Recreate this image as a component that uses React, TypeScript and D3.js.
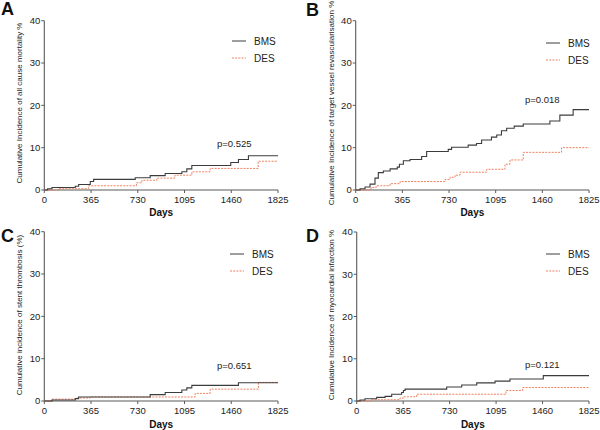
import React from "react";
import * as d3 from "d3";

const xTicks = [0, 365, 730, 1095, 1460, 1825];
const yTicks = [0, 10, 20, 30, 40];
const seriesNames = ["BMS", "DES"];

// [day, cumulative %]
const mortalityBMS: [number, number][] = [
  [0, 0], [26, 0.3], [60, 0.6], [242, 0.9], [268, 1.3], [359, 2.0], [385, 2.5],
  [710, 2.9], [827, 3.4], [944, 3.9], [1074, 4.3], [1113, 5.0], [1152, 5.8],
  [1456, 6.5], [1516, 7.2], [1594, 8.1], [1825, 8.1],
];
const mortalityDES: [number, number][] = [
  [0, 0], [112, 0.3], [346, 1.0], [720, 1.7], [762, 2.3], [879, 2.8],
  [1020, 3.5], [1152, 4.3], [1295, 5.1], [1670, 6.8], [1825, 6.8],
];
const tvrBMS: [number, number][] = [
  [0, 0], [34, 0.3], [73, 0.7], [112, 1.4], [151, 2.8], [177, 4.1], [216, 4.5],
  [269, 5.0], [325, 5.4], [342, 6.1], [373, 6.9], [425, 7.2], [516, 7.9],
  [555, 9.1], [724, 9.6], [750, 10.1], [880, 10.6], [945, 11.0], [985, 11.8],
  [1062, 12.5], [1103, 13.0], [1140, 14.0], [1181, 14.6], [1240, 15.1],
  [1311, 15.6], [1519, 16.3], [1597, 17.7], [1701, 19.0], [1825, 19.0],
];
const tvrDES: [number, number][] = [
  [0, 0], [120, 0.6], [160, 1.0], [269, 1.5], [347, 2.0], [699, 2.5],
  [738, 3.0], [777, 3.5], [816, 4.2], [1025, 4.9], [1168, 6.1], [1207, 7.1],
  [1311, 8.9], [1610, 10.0], [1825, 10.0],
];
const thrombosisBMS: [number, number][] = [
  [0, 0], [60, 0.25], [242, 0.55], [268, 0.95], [827, 1.5], [944, 2.0],
  [1074, 2.6], [1113, 3.1], [1152, 3.7], [1516, 4.3], [1825, 4.3],
];
const thrombosisDES: [number, number][] = [
  [0, 0], [60, 0.45], [242, 0.7], [359, 0.95], [1178, 1.8], [1295, 2.8],
  [1672, 4.4], [1825, 4.4],
];
const miBMS: [number, number][] = [
  [0, 0], [26, 0.25], [65, 0.55], [157, 0.85], [223, 1.1], [275, 1.6],
  [353, 2.0], [367, 2.5], [380, 2.8], [707, 3.3], [825, 3.8], [943, 4.3],
  [1087, 4.7], [1204, 5.2], [1466, 6.0], [1825, 6.0],
];
const miDES: [number, number][] = [
  [0, 0], [118, 0.3], [340, 0.7], [367, 1.0], [471, 1.6], [1173, 2.5],
  [1304, 3.2], [1825, 3.2],
];

const panelLetters = ["A", "B", "C", "D"];
const yTitles = [
  "Cumulative Incidence of all cause mortality %",
  "Cumulative Incidence of target vessel revascularisation %",
  "Cumulative incidence of stent thrombosis (%)",
  "Cumulative Incidence of myocardial infarction %",
];
const pValues = ["p=0.525", "p=0.018", "p=0.651", "p=0.121"];
const panelSeries = [
  [mortalityBMS, mortalityDES],
  [tvrBMS, tvrDES],
  [thrombosisBMS, thrombosisDES],
  [miBMS, miDES],
];

const layouts = [
  { x0: 44.3, x1: 278, yTop: 20.7, yBot: 190, letterX: 1, letterY: 15, legX: 232, legY: 41, pX: 217, pY: 144, titleX: 19, titleY: 103, daysY: 216 },
  { x0: 355.7, x1: 589, yTop: 20.7, yBot: 190, letterX: 306, letterY: 16, legX: 546, legY: 43, pX: 525, pY: 100, titleX: 331.5, titleY: 103, daysY: 216 },
  { x0: 44.3, x1: 278, yTop: 231.7, yBot: 401, letterX: 1, letterY: 242, legX: 230, legY: 254, pX: 217, pY: 366, titleX: 19.5, titleY: 315, daysY: 428 },
  { x0: 356.7, x1: 589, yTop: 232, yBot: 401, letterX: 306, letterY: 242, legX: 546, legY: 254, pX: 525, pY: 365, titleX: 331.5, titleY: 315, daysY: 428 },
];

const BMS_COLOR = "#3c3c3c";
const DES_COLOR = "#f0805e";
const AXIS_COLOR = "#5a5a5a";
const FONT = "'Liberation Sans', Arial, sans-serif";

function Panel({ i }: { i: number }) {
  const L = layouts[i];
  const x = d3.scaleLinear().domain([0, 1825]).range([L.x0, L.x1]);
  const y = d3.scaleLinear().domain([0, 40]).range([L.yBot, L.yTop]);
  const line = d3
    .line<[number, number]>()
    .x((d) => x(d[0]))
    .y((d) => y(d[1]))
    .curve(d3.curveStepAfter);
  const [bms, des] = panelSeries[i];
  return (
    <g fontFamily={FONT}>
      <text x={L.letterX} y={L.letterY} fontSize={18} fontWeight="bold" fill="#111">
        {panelLetters[i]}
      </text>
      {/* axes */}
      <line x1={L.x0} x2={L.x0} y1={y(40)} y2={y(0)} stroke={AXIS_COLOR} strokeWidth={1.1} />
      <line x1={L.x0} x2={x(1825)} y1={y(0)} y2={y(0)} stroke={AXIS_COLOR} strokeWidth={1.1} />
      {yTicks.map((t) => (
        <g key={"y" + t}>
          <line x1={L.x0 - 3} x2={L.x0} y1={y(t)} y2={y(t)} stroke={AXIS_COLOR} strokeWidth={1} />
          <text x={L.x0 - 4} y={y(t)} dy="0.35em" textAnchor="end" fontSize={9.5} fill="#222">
            {t}
          </text>
        </g>
      ))}
      {xTicks.map((t) => (
        <g key={"x" + t}>
          <line x1={x(t)} x2={x(t)} y1={y(0)} y2={y(0) + 3} stroke={AXIS_COLOR} strokeWidth={1} />
          <text x={x(t)} y={y(0) + 12.5} textAnchor="middle" fontSize={9.5} fill="#222">
            {t}
          </text>
        </g>
      ))}
      <text
        x={(L.x0 + L.x1) / 2}
        y={L.daysY}
        textAnchor="middle"
        fontSize={10}
        fontWeight="bold"
        fill="#111"
      >
        Days
      </text>
      <text
        transform={`translate(${L.titleX},${L.titleY}) rotate(-90)`}
        textAnchor="middle"
        dy="0.35em"
        fontSize={8}
        fill="#222"
      >
        {yTitles[i]}
      </text>
      {/* curves */}
      <path d={line(des) || ""} fill="none" stroke={DES_COLOR} strokeWidth={1} strokeDasharray="2,1.2" />
      <path d={line(bms) || ""} fill="none" stroke={BMS_COLOR} strokeWidth={1.1} />
      {/* legend */}
      {seriesNames.map((name, k) => (
        <g key={name}>
          <line
            x1={L.legX}
            x2={L.legX + 14}
            y1={L.legY + k * 17}
            y2={L.legY + k * 17}
            stroke={k === 0 ? BMS_COLOR : DES_COLOR}
            strokeWidth={1}
            strokeDasharray={k === 0 ? undefined : "2,1.2"}
          />
          <text x={L.legX + 22} y={L.legY + k * 17} dy="0.35em" fontSize={10} fill="#222">
            {name}
          </text>
        </g>
      ))}
      <text x={L.pX} y={L.pY} dy="0.35em" fontSize={9.5} fill="#222">
        {pValues[i]}
      </text>
    </g>
  );
}

export default function App() {
  return (
    <svg
      width={600}
      height={430}
      style={{ position: "absolute", left: 0, top: 0, background: "#fff" }}
    >
      <rect width={600} height={430} fill="#fff" />
      {[0, 1, 2, 3].map((i) => (
        <Panel key={i} i={i} />
      ))}
    </svg>
  );
}
